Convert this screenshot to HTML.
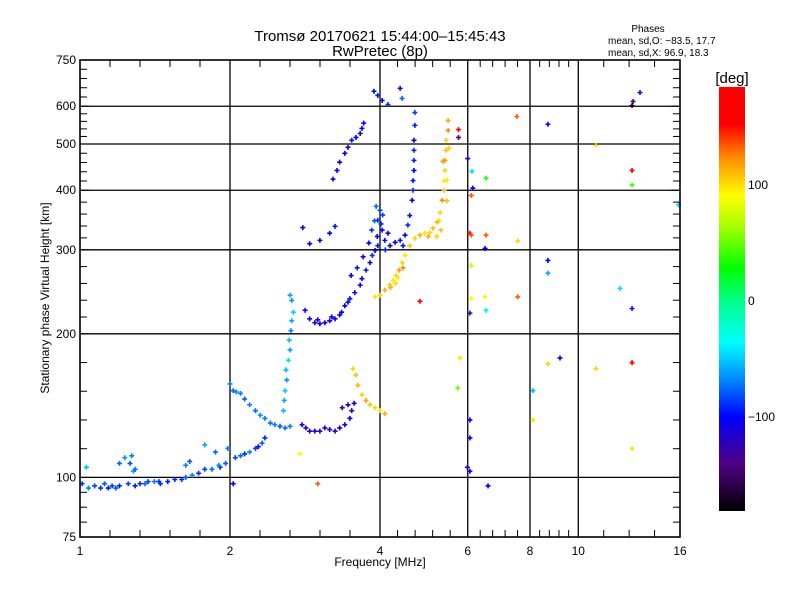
<!DOCTYPE html>
<html><head><meta charset="utf-8"><style>
html,body{margin:0;padding:0;background:#fff;}
svg{display:block;font-family:"Liberation Sans",sans-serif;}
</style></head><body>
<svg id="chart" width="800" height="600" viewBox="0 0 800 600" xmlns="http://www.w3.org/2000/svg">
<defs>
<linearGradient id="cbar" x1="0" y1="1" x2="0" y2="0">
<stop offset="0" stop-color="#000000"/>
<stop offset="0.111" stop-color="#500082"/>
<stop offset="0.222" stop-color="#0000ff"/>
<stop offset="0.306" stop-color="#0082ff"/>
<stop offset="0.397" stop-color="#00ffff"/>
<stop offset="0.5" stop-color="#00ff82"/>
<stop offset="0.572" stop-color="#00ff00"/>
<stop offset="0.667" stop-color="#a0ff00"/>
<stop offset="0.744" stop-color="#ffff00"/>
<stop offset="0.833" stop-color="#ff8c00"/>
<stop offset="0.911" stop-color="#ff0000"/>
<stop offset="1" stop-color="#ff0000"/>
</linearGradient>
</defs>
<text x="380" y="41" font-size="15" text-anchor="middle">Tromsø 20170621 15:44:00–15:45:43</text>
<text x="380" y="56" font-size="15" text-anchor="middle">RwPretec (8p)</text>
<text x="648" y="32" font-size="10" text-anchor="middle">Phases</text>
<text x="608" y="44" font-size="10">mean, sd,O: −83.5, 17.7</text>
<text x="608" y="56" font-size="10">mean, sd,X:  96.9, 18.3</text>
<g id="grid"></g>
<g id="marks"></g>
<rect x="80" y="60" width="600" height="477" fill="none" stroke="#000" stroke-width="1.6"/>
<g id="axes"></g>
<text x="380" y="566" font-size="12" text-anchor="middle">Frequency [MHz]</text>
<text transform="translate(49,298) rotate(-90)" font-size="12" text-anchor="middle">Stationary phase Virtual Height [km]</text>
<rect x="719" y="87" width="26" height="424" fill="url(#cbar)"/>
<text x="732" y="83" font-size="15" text-anchor="middle">[deg]</text>
<text x="748" y="189" font-size="12">100</text>
<text x="748" y="305" font-size="12">0</text>
<text x="748" y="421" font-size="12">−100</text>
</svg>
<script>
const freqMHz = [
// E layer
1.01,1.04,1.07,1.10,1.14,1.18,1.20,1.25,1.29,1.32,1.37,1.41,1.45,1.50,1.55,1.63,1.68,1.73,1.78,1.84,1.91,1.96,2.05,2.10,2.14,2.19,2.25,2.28,2.32,2.35,
// Es branch
2.00,2.03,2.06,2.10,2.14,2.19,2.25,2.30,2.35,2.41,2.46,2.52,2.58,2.64,
// steep 2.6
2.56,2.57,2.58,2.60,2.59,2.62,2.64,2.63,2.65,2.66,2.68,2.66,2.64,
// F O-trace
2.83,2.89,2.96,3.03,3.10,3.17,3.25,3.32,3.40,3.48,3.56,3.65,3.68,3.75,3.82,3.86,3.91,3.96,4.00,3.96,4.04,4.09,4.19,4.29,4.39,
// F2 O cusp
4.45,4.49,4.55,4.59,4.64,4.66,4.66,4.68,4.68,4.68,4.68,4.70,4.70,
// upper trace
3.22,3.28,3.32,3.40,3.45,3.51,3.58,3.65,3.68,3.71,2.80,2.89,3.03,3.17,3.25,3.89,3.96,4.04,4.15,4.39,4.43,
// X trace
3.91,4.00,4.09,4.19,4.25,4.31,4.37,4.43,4.49,4.59,4.70,4.81,4.92,5.04,5.11,5.21,5.28,5.33,5.38,5.38,5.40,5.40,5.43,5.43,5.48,5.48,
// X low trace
3.53,3.58,3.61,3.68,3.75,3.82,3.91,4.00,4.09,
// F1 low cluster
2.79,2.84,2.89,2.96,3.03,3.10,3.17,3.25,3.32,3.40,3.48,3.51,3.55,3.45,3.36,
// sporadic E
1.20,1.23,1.26,1.27,1.28,1.29,1.03,1.63,1.66,1.78,1.87,1.98,
// scattered
7.53,8.69,13.30,12.88,12.82,10.85,12.82,12.82,6.53,6.06,6.50,6.53,7.56,8.69,8.69,7.56,6.50,6.06,6.53,6.10,4.81,12.13,12.82,8.69,9.19,10.85,12.82,5.79,5.73,8.11,8.11,6.06,6.06,5.99,6.06,6.59,3.00,2.76,2.03,12.82,15.9,5.75,5.75,6.10,6.10,6.10,6.12,6.14,6.00,
// extra density: 4 MHz cluster
3.85,3.90,3.95,4.05,4.10,3.80,3.70,3.60,3.50,3.93,4.02,4.15,
// extra density: X trace
4.20,4.30,4.35,4.45,5.30,5.20,5.00,5.45,5.35,5.50,5.45,5.25,
// extra density: F bottom
3.00,3.20,3.35,3.45,
// extra density: E layer
1.12,1.35,1.60,1.90,1.16,1.44
];
const heightKm = [
97,95,96,95,95,95,96,97,96,97,98,98,97,98,99,100,101,102,104,104,105,107,110,111,112,113,115,116,118,121,
157,152,151,150,146,142,138,135,133,130,129,128,127,128,
138,145,152,160,168,176,185,194,203,213,222,235,241,
224,215,211,210,211,213,215,219,229,237,244,253,261,272,282,292,299,306,363,346,330,314,306,311,314,
306,322,338,354,381,400,419,440,462,485,509,547,582,
422,440,458,478,492,509,516,526,539,553,334,309,314,325,336,645,632,617,605,654,623,
239,241,247,253,259,265,272,282,292,306,317,322,325,326,333,343,359,381,400,419,440,462,485,509,534,560,
169,164,156,149,145,142,140,138,136,
129,127,125,125,125,127,126,125,127,129,133,138,143,142,140,
107,110,107,111,103,104,105,106,108,117,113,115,
571,550,641,614,602,497,440,410,424,325,302,322,313,285,268,239,239,221,224,237,234,249,226,173,178,169,174,178,154,152,132,132,121,105,103,96,97,112,97,115,373,536,516,390,322,278,438,404,466,
330,345,320,355,300,310,290,275,265,370,340,325,
250,255,262,275,330,320,320,420,460,490,380,345,
214,217,222,233,
97,97,99,106,96,98
];
const phaseDeg = [
-85,-70,-85,-90,-95,-80,-90,-85,-95,-90,-85,-70,-90,-95,-90,-80,-70,-90,-85,-75,-90,-80,-85,-75,-90,-70,-85,-95,-80,-90,
-70,-75,-65,-70,-80,-70,-75,-65,-70,-75,-70,-80,-75,-70,
-55,-60,-50,-65,-55,-45,-60,-55,-70,-60,-50,-65,-60,
-105,-110,-115,-105,-110,-115,-105,-110,-100,-95,-105,-100,-110,-95,-100,-90,-100,-95,-85,-90,-100,-95,-105,-100,-95,
-95,-100,-90,-95,-100,-90,-95,-100,-95,-90,-100,-95,-85,
-105,-100,-110,-100,-105,-95,-100,-110,-105,-100,-115,-110,-105,-100,-95,-100,-95,-105,-90,-110,-75,
95,100,110,105,95,100,115,100,95,105,100,110,95,100,105,110,100,120,105,95,100,115,105,100,120,110,
100,105,110,100,115,105,100,95,110,
-115,-120,-110,-115,-125,-110,-115,-120,-110,-115,-105,-120,-110,-115,-125,
-75,-65,-80,-70,-60,-75,-55,-70,-80,-60,-75,-70,
130,-100,-95,-140,-170,95,160,40,35,165,-100,130,100,-100,-60,130,90,-130,-40,90,165,-45,-95,100,-110,100,165,95,50,-55,95,-100,-100,-130,-100,-100,130,90,-100,95,-50,150,-140,130,130,70,-45,-100,-100,
-90,-80,-100,-85,-95,-100,-105,-95,-100,-75,-90,-100,
110,100,95,120,105,100,110,95,115,100,105,100,
-110,-105,-100,-110,
-80,-75,-90,-70,-85,-90
];
const xTickLabels = [1,2,4,6,8,10,16];
const yTickLabels = [75,100,200,300,400,500,600,750];
const xGridValues = [2,4,6,8,10];
const yGridValues = [100,200,300,400,500,600];

const X0=80,X1=680,Y0=537,Y1=60;
function xScale(f){return X0+(Math.log(f)/Math.log(16))*(X1-X0);}
function yScale(h){return Y0-(Math.log(h/75)/Math.log(10))*(Y0-Y1);}
const cStops=[[-180,0,0,0],[-140,80,0,130],[-100,0,0,255],[-70,0,130,255],[-37,0,255,255],[0,0,255,130],[26,0,255,0],[60,160,255,0],[88,255,255,0],[120,255,140,0],[148,255,0,0],[180,255,0,0]];
function phaseColor(p){
  for(let i=1;i<cStops.length;i++){
    if(p<=cStops[i][0]){const a=cStops[i-1],b=cStops[i];const t=(p-a[0])/(b[0]-a[0]);
      return 'rgb('+[1,2,3].map(k=>Math.round(a[k]+t*(b[k]-a[k]))).join(',')+')';}
  }
  return 'rgb(255,0,0)';
}
const NS='http://www.w3.org/2000/svg';
const grid=document.getElementById('grid'),axes=document.getElementById('axes'),marks=document.getElementById('marks');
function line(parent,x1,y1,x2,y2,w,name){
  const l=document.createElementNS(NS,'line');
  l.setAttribute('x1',x1);l.setAttribute('y1',y1);l.setAttribute('x2',x2);l.setAttribute('y2',y2);
  l.setAttribute('stroke','#000');l.setAttribute('stroke-width',w);
  
  
  parent.appendChild(l);
}
function text(parent,x,y,s,anchor,name){
  const t=document.createElementNS(NS,'text');
  t.setAttribute('x',x);t.setAttribute('y',y);t.setAttribute('font-size','12');t.setAttribute('text-anchor',anchor);
  t.textContent=s;
  
  
  parent.appendChild(t);
}
xGridValues.forEach(v=>{const x=xScale(v);line(grid,x,Y1,x,Y0,1.3,'x-gridline');});
yGridValues.forEach(v=>{const y=yScale(v);line(grid,X0,y,X1,y,1.3,'y-gridline');});
const xSeg=[[1,2,5],[2,4,5],[4,6,5],[6,8,5],[8,10,5],[10,16,4]];
xSeg.forEach(s=>{const a=xScale(s[0]),b=xScale(s[1]);for(let i=1;i<s[2];i++){const x=a+(b-a)*i/s[2];
  line(axes,x,Y0,x,Y0-7,1,'x-minor-tick');line(axes,x,Y1,x,Y1+7,1,'x-minor-tick');}});
const ySeg=[[75,100,4],[100,200,5],[200,300,5],[300,400,5],[400,500,5],[500,600,5],[600,750,5]];
ySeg.forEach(s=>{const a=yScale(s[0]),b=yScale(s[1]);for(let i=1;i<s[2];i++){const y=a+(b-a)*i/s[2];
  line(axes,X0,y,X0+7,y,1,'y-minor-tick');line(axes,X1,y,X1-7,y,1,'y-minor-tick');}});
yTickLabels.forEach(v=>{const y=yScale(v);text(axes,76,y+4,String(v),'end','y-tick-label');
  line(axes,X0,y,X0+9,y,1,'y-major-tick');line(axes,X1,y,X1-9,y,1,'y-major-tick');});
xTickLabels.forEach(v=>{text(axes,xScale(v),555,String(v),'middle','x-tick-label');});
for(let i=0;i<freqMHz.length;i++){
  const x=xScale(freqMHz[i]),y=yScale(heightKm[i]);
  const p=document.createElementNS(NS,'path');
  p.setAttribute('d','M'+(x-2.5)+' '+y+'h5M'+x+' '+(y-2.5)+'v5');
  p.setAttribute('stroke',phaseColor(phaseDeg[i]));
  p.setAttribute('stroke-width','1.6');
  
  
  marks.appendChild(p);
}
</script>
</body></html>
